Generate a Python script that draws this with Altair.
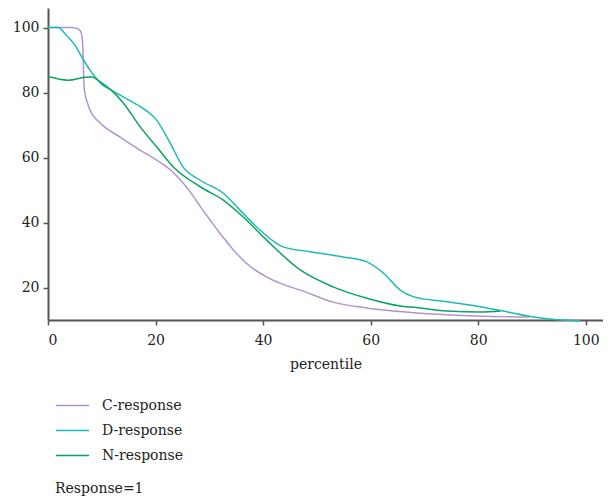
import altair as alt
import pandas as pd

series_names = ["C-response", "D-response", "N-response"]
series_colors = ["#b393cd", "#1bbaba", "#0ba45c"]

c_x = [0, 2, 4, 5.3, 6.0, 6.3, 6.5, 6.6, 6.7, 6.9, 7.3, 7.8, 9.7, 13.4, 17.1, 20.2, 23.3, 26.4,
       28.5, 32.3, 34.5, 37, 40.7, 44, 46.9, 53, 59.3, 69.2, 80, 89.5]
c_y = [100, 100, 100, 99.8, 99, 97.5, 93, 87, 82, 79.5, 77, 74.6, 70.6, 66.3, 62.3, 59.2, 55.4, 49.5,
       44.5, 36, 31.5, 27.3, 23.2, 20.8, 19.2, 15.5, 13.7, 12.1, 11.2, 10.9]

d_x = [0, 1.9, 3.2, 5, 6.6, 7.8, 8.7, 10, 11.7, 14.9, 17.5, 20.2, 22.7, 25.1, 28.3, 32.6, 35.7, 39.4,
       43.7, 48.7, 54.9, 59.3, 62.4, 65.5, 67.9, 74.2, 80.4, 84.1, 89.7, 94.7, 99]
d_y = [100, 100, 98, 94.6, 90, 86.9, 84.9, 82.5, 80.8, 77.8, 75.3, 71.5, 64.5, 57.1, 53, 49, 43.8, 37.7,
       32.5, 31, 29.4, 27.9, 24.4, 19.2, 17.2, 15.6, 14.1, 12.9, 11.1, 10.1, 9.8]

n_x = [0, 3.7, 6.9, 8.2, 9.5, 11.7, 14, 17.1, 20.2, 23.3, 28.3, 32.6, 36.3, 40.7, 46.9, 53, 59.3,
       65.5, 69.2, 74.2, 80.4, 84.1]
n_y = [84.9, 83.8, 84.7, 84.8, 83.5, 80.8, 76.8, 69.5, 63.3, 57.1, 51, 46.9, 41.7, 34.5, 25.4, 20.2, 16.7,
       14.3, 13.7, 12.8, 12.5, 12.8]

rows = []
for name, xs, ys in zip(series_names, [c_x, d_x, n_x], [c_y, d_y, n_y]):
    for i, (x, y) in enumerate(zip(xs, ys)):
        rows.append({"percentile": x, "value": y, "Response": name, "order": i})
df = pd.DataFrame(rows)

font = "DejaVu Serif"

chart = alt.Chart(df).mark_line(interpolate="monotone", strokeWidth=1.5).encode(
    x=alt.X("percentile:Q", title="percentile",
            scale=alt.Scale(domain=[0, 103.2], nice=False, zero=False),
            axis=alt.Axis(values=[0, 20, 40, 60, 80, 100], grid=False, format="d")),
    y=alt.Y("value:Q", title=None,
            scale=alt.Scale(domain=[10, 106], nice=False, zero=False),
            axis=alt.Axis(values=[20, 40, 60, 80, 100], grid=False, format="d")),
    color=alt.Color("Response:N",
                    scale=alt.Scale(domain=series_names, range=series_colors),
                    legend=alt.Legend(title="Response=1", orient="none", legendX=7, legendY=380,
                                      titleOrient="bottom", titleAnchor="start",
                                      symbolType="stroke", symbolSize=1100, symbolStrokeWidth=1.5,
                                      labelFontSize=14, titleFontSize=14, titleFontWeight="normal",
                                      labelFont=font, titleFont=font, rowPadding=0, labelOffset=12,
                                      titlePadding=19, labelColor="#222", titleColor="#222")),
    order="order:Q",
).properties(
    width=555, height=312,
    autosize=alt.AutoSizeParams(type="none"),
    padding={"left": 40, "top": 0, "right": 0, "bottom": 176},
).configure_view(stroke=None).configure_axis(
    domainColor="#555", domainWidth=2, tickColor="#555", tickWidth=1.5, tickSize=5,
    labelFont=font, titleFont=font, labelFontSize=14, titleFontSize=14,
    titleFontWeight="normal", labelColor="#222", titleColor="#222", labelPadding=4,
).configure_axisX(titlePadding=10, labelPadding=8)

chart.save("out.html", embed_options={"renderer": "svg", "actions": False})
